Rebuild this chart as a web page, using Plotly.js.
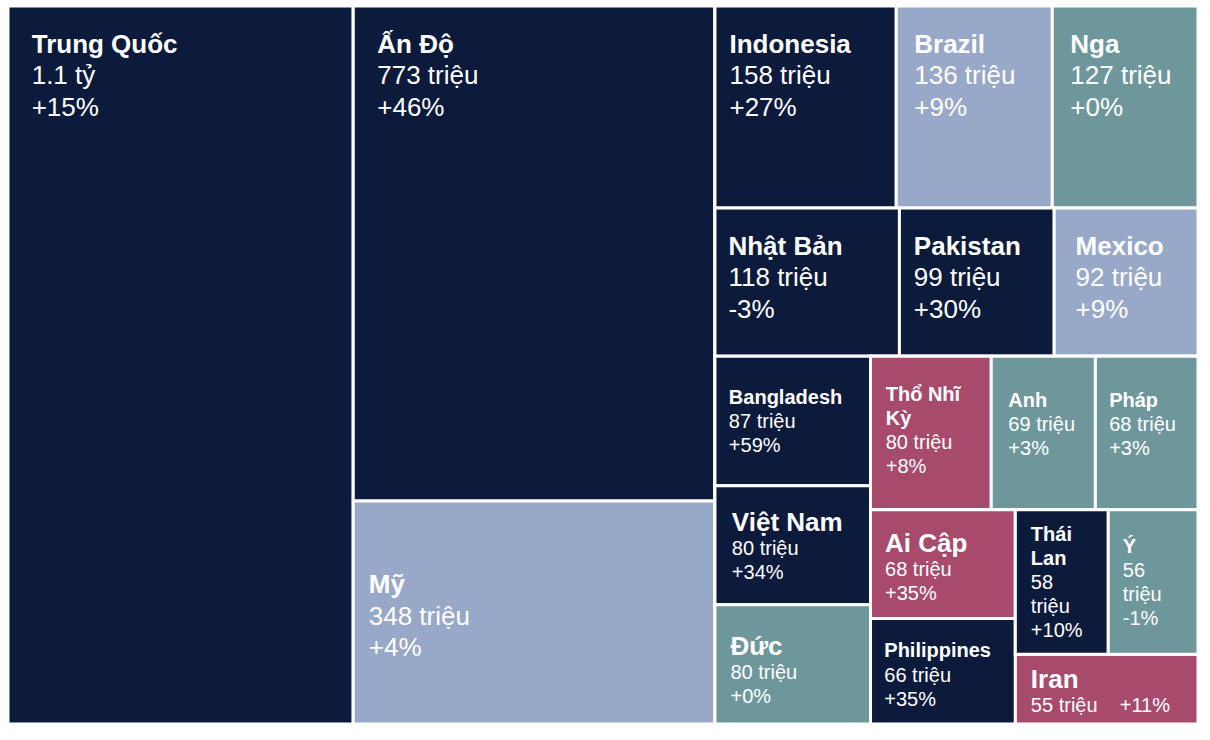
<!DOCTYPE html>
<html>
<head>
<meta charset="utf-8">
<script src="https://cdn.plot.ly/plotly-3.0.1.min.js"></script>
<style>html,body{margin:0;padding:0;background:#fff;}#chart{width:1210px;height:740px;}</style>
</head>
<body>
<div id="chart"></div>
<script>
// ---- data ----
const countries = ["Trung Quốc","Ấn Độ","Mỹ","Indonesia","Brazil","Nga","Nhật Bản","Pakistan","Mexico","Bangladesh","Việt Nam","Đức","Thổ Nhĩ Kỳ","Anh","Pháp","Ai Cập","Philippines","Thái Lan","Ý","Iran"];
const values = [1070,773,348,158,136,127,118,99,92,87,80,80,80,69,68,68,66,58,56,55];
const valueLabels = ["1.1 tỷ","773 triệu","348 triệu","158 triệu","136 triệu","127 triệu","118 triệu","99 triệu","92 triệu","87 triệu","80 triệu","80 triệu","80 triệu","69 triệu","68 triệu","68 triệu","66 triệu","58 triệu","56 triệu","55 triệu"];
const growth = ["+15%","+46%","+4%","+27%","+9%","+0%","-3%","+30%","+9%","+59%","+34%","+0%","+8%","+3%","+3%","+35%","+35%","+10%","-1%","+11%"];
const regions = ["Asia","Asia","Americas","Asia","Americas","Europe","Asia","Asia","Americas","Asia","Asia","Europe","MEA","Europe","Europe","MEA","Asia","Asia","Europe","MEA"];

// ---- tile grouping (used with slice-dice packing) ----
const tileTree = ["Trung Quốc", ["Ấn Độ","Mỹ"],
  [["Indonesia","Brazil","Nga"], ["Nhật Bản","Pakistan","Mexico"],
   [["Bangladesh","Việt Nam","Đức"],
    [["Thổ Nhĩ Kỳ","Anh","Pháp"],
     [["Ai Cập","Philippines"], [["Thái Lan","Ý"], "Iran"]]]]]];

// ---- styles ----
const regionColors = {Asia:"#0c1a3c", Americas:"#98a8c8", Europe:"#6e979c", MEA:"#a84a6c"};
const smallTiles = ["Bangladesh","Việt Nam","Đức","Thổ Nhĩ Kỳ","Anh","Pháp","Ai Cập","Philippines","Thái Lan","Ý","Iran"];
const bigNameSmallTile = ["Việt Nam","Đức","Ai Cập","Iran"];
const topGap = {"Bangladesh":23,"Việt Nam":20,"Đức":25,"Thổ Nhĩ Kỳ":20,"Anh":26,"Pháp":26,"Ai Cập":17,"Philippines":13,"Thái Lan":4.5,"Ý":18,"Iran":8,"Mỹ":30};
const indentPx = {"Trung Quốc":20.7,"Ấn Độ":21,"Mỹ":12.5,"Indonesia":11.5,"Brazil":15,"Nga":15,"Nhật Bản":10.5,"Pakistan":11.4,"Mexico":18.4,
  "Bangladesh":10.9,"Việt Nam":13.9,"Đức":12.5,"Thổ Nhĩ Kỳ":12.2,"Anh":14.1,"Pháp":10.8,"Ai Cập":11.5,"Philippines":10.8,"Thái Lan":12.5,"Ý":11.5,"Iran":12.5};

function indentSpan(w, base) {
  const n = Math.max(1, Math.ceil(w / (0.2778 * base)));
  const f = (w / (0.2778 * n)).toFixed(2);
  return `<span style="font-size:${f}px">${" ".repeat(n)}</span>`;
}

function tileText(c, i) {
  const small = smallTiles.includes(c);
  const base = small ? 18.5 : 24;
  const ns = small ? (bigNameSmallTile.includes(c) ? 26 : 20) : 26;
  const bs = small ? 20 : 26;
  const ind = indentSpan(indentPx[c], base);
  let nameLines = [c], bodyLines = [valueLabels[i], growth[i]];
  if (c === "Thổ Nhĩ Kỳ") nameLines = ["Thổ Nhĩ","Kỳ"];
  if (c === "Thái Lan") { nameLines = ["Thái","Lan"]; bodyLines = valueLabels[i].split(" ").concat([growth[i]]); }
  if (c === "Ý") bodyLines = valueLabels[i].split(" ").concat([growth[i]]);
  if (c === "Iran") bodyLines = [valueLabels[i] + "    " + growth[i]];
  const lines = nameLines.map(t=>`${ind}<span style="font-size:${ns}px"><b>${t}</b></span>`)
    .concat(bodyLines.map(t=>`${ind}<span style="font-size:${bs}px">${t}</span>`));
  const gap = (c in topGap) ? topGap[c] : 14;
  let pre = `<span style="font-size:${gap}px"> </span><br>`;
  if (c === "Mỹ") pre += " <br>";
  return pre + lines.join("<br>");
}

// ---- build nodes ----
const ids = [], labels = [], parents = [], vals = [], colors = [], texts = [], sizes = [];
let gCount = 0;
function addNode(node, parentId) {
  if (typeof node === "string") {
    const i = countries.indexOf(node);
    ids.push(node); labels.push(node); parents.push(parentId);
    vals.push(values[i]); colors.push(regionColors[regions[i]]);
    texts.push(tileText(node, i));
    sizes.push(smallTiles.includes(node) ? 18.5 : 24);
  } else {
    const id = "g" + (gCount++);
    ids.push(id); labels.push(""); parents.push(parentId);
    vals.push(0); colors.push("#ffffff"); texts.push(""); sizes.push(10);
    node.forEach(ch => addNode(ch, id));
  }
}
tileTree.forEach(n => addNode(n, ""));

const trace = {
  type: "treemap",
  ids: ids, labels: labels, parents: parents, values: vals,
  branchvalues: "remainder",
  sort: false,
  texttemplate: texts,
  hovertemplate: "%{label}<extra></extra>",
  textposition: "top left",
  textfont: {family: "Liberation Sans, Arial, sans-serif", color: "#ffffff", size: sizes},
  marker: {colors: colors, line: {color: "#ffffff", width: 3},
           pad: {t: 0, l: 0, r: 0, b: 0}},
  tiling: {packing: "slice-dice", pad: 0},
  pathbar: {visible: false}
};

const layout = {
  width: 1210, height: 740,
  margin: {l: 8, r: 12, t: 6, b: 16},
  paper_bgcolor: "#ffffff",
  showlegend: false
};

Plotly.newPlot("chart", [trace], layout, {displayModeBar: false, staticPlot: true});
</script>
</body>
</html>
